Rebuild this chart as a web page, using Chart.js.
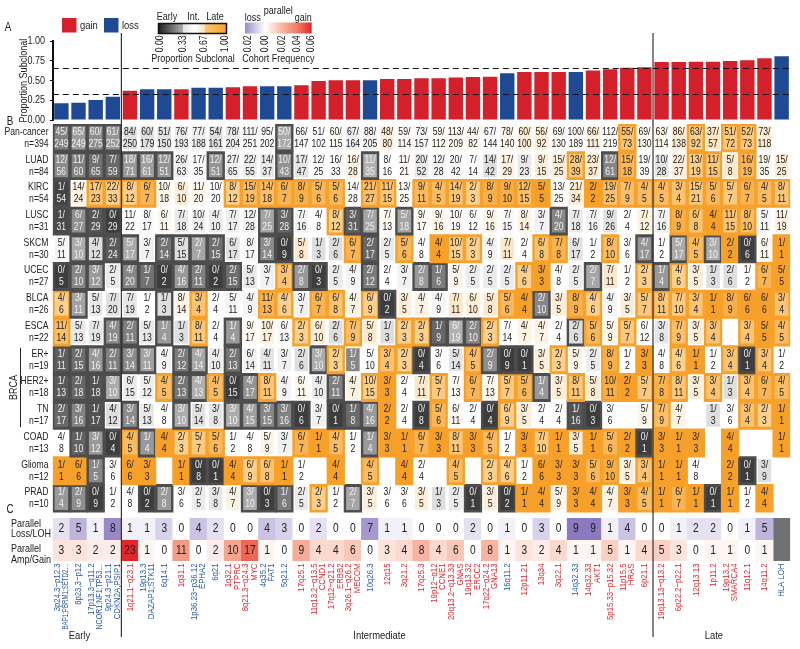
<!DOCTYPE html>
<html>
<head>
<meta charset="utf-8">
<script src="https://cdn.jsdelivr.net/npm/chart.js@4.4.0/dist/chart.umd.min.js"></script>
<style>
  html, body { margin: 0; padding: 0; background: #fff; width: 800px; height: 649px; overflow: hidden; }
  canvas { position: absolute; left: 0; top: 0; }
</style>
</head>
<body>
<canvas id="chartA" width="800" height="649"></canvas>
<canvas id="chartB" width="800" height="649"></canvas>
<canvas id="chartC" width="800" height="649"></canvas>
<script>
// ---- data ----
const regions = ['3p24.3−p12.3','8p23.3−p12','17p13.3−q11.2','9p24.3−p21.1','1q21.1−q23.1','19p13.3','6q14.1','1q31.1',
  '1p36.23−p36.12','6q21','1q32.1','8q21.3−q24.3','4q35.2','5q21.2','17q25.1','11q13.2−q13.5','17q12−q21.2','3q26.1−q26.2',
  '10q26.3','12q15','3q21.2','17q25.3','19p12−q12','20q13.2−q13.33','19q13.32','17q22−q24.2','16q11.2','12p11.21','13q34',
  '3q22.1','14q32.33','14q32.33','5p15.33−p15.32','11p15.5','6p21.1','19q13.13−q13.2','6p22.2−p22.1','12q13.13','1p11.2',
  '19p13.2','11q12.1','14q11.2','HLA LOH'];
const genes = ['BAP1;PBRM1;SETD2…','','NCOR1;NF1;TP53…','CDKN2A;PSIP1','','DAZAP1;STK11','','','EPHA2','','PTPRC','MYC',
  'FAT1','','','CCND1','ERBB2','MECOM','','','','','CCNE1','GNAS','ERCC2','GNA13','','','','','','AKT1','','HRAS','','','',
  '','','SMARCA4','','',''];
const eventType = ['loss','loss','loss','loss','gain','loss','loss','gain','loss','loss','gain','gain','loss','loss','gain',
  'gain','gain','gain','loss','gain','gain','gain','gain','gain','gain','gain','loss','gain','gain','gain','loss','gain','gain',
  'gain','gain','gain','gain','gain','gain','gain','gain','gain','loss'];
const timing = ['Early','Early','Early','Early'].concat(Array(31).fill('Intermediate'), Array(8).fill('Late'));
const propSubclonal = [0.212,0.22,0.254,0.296, 0.372,0.39,0.39,0.39,0.41,0.41,0.415,0.43,0.43,0.43,0.44,0.495,0.504,0.504,
  0.504,0.52,0.52,0.53,0.53,0.54,0.545,0.55,0.593,0.61,0.61,0.61,0.61,0.63,0.644,0.665,0.67, 0.737,0.737,0.741,0.741,0.75,
  0.758,0.784,0.809];
const yTicks = [0, 0.25, 0.5, 0.75, 1];

const cohorts = ['Pan-cancer','LUAD','KIRC','LUSC','SKCM','UCEC','BLCA','ESCA','ER+','HER2+','TN','COAD','Glioma','PRAD'];
const cohortN = [394,84,54,31,30,27,26,22,19,18,17,13,12,10];
// subclonal/total per event; suffix e = significantly early, l = significantly late
const panCancer = ['45/249e','65/249e','60/275e','61/252e','84/250','60/179','51/150','76/193','77/188','54/161','78/204','111/251','95/202','50/172e','66/147','51/102','60/115','67/164','88/205','48/80','59/114','73/157','59/112','113/209','44/82','67/144','78/140','60/100','56/92','69/130','100/189','66/111','112/219','55/73l','69/130','63/114','86/138','63/92l','37/57','51/72l','52/73l','73/118',''];
const luad = ['12/56e','11/60e','9/65e','7/59e','18/71e','16/61e','12/51e','26/63','17/35','12/51e','27/65','22/55','14/37','10/43e','17/47','12/25','16/33','16/28','11/35e','8/16','11/21','20/52','12/28','20/42','7/14','14/42','17/29','9/23','9/15','15/25','28/39l','23/37','12/61e','15/18l','19/39','10/28','22/37','13/19l','11/15l','5/8','16/19l','19/35','15/25'];
const kirc = ['1/54e','14/24','17/23l','22/33l','8/12l','6/7l','10/18','6/10','11/20','10/20','8/12l','15/19l','14/18l','6/7l','8/9l','5/6l','5/6l','14/28','21/27l','11/15l','13/25','9/11l','4/5l','14/19l','2/3l','8/9l','9/10l','12/15l','5/5l','13/25','21/34','2/2l','19/25l','7/9l','4/5l','4/5l','3/4l','15/21l','5/6l','5/7l','6/7l','4/5l','8/11l'];
const lusc = ['1/31e','6/27e','2/29e','0/29e','11/22','8/17','6/11','7/18','10/24','4/10','7/17','12/28','7/25e','3/28e','7/16','4/8','8/12l','3/31e','7/25e','7/13','5/18e','9/17','9/16','10/19','6/12','9/16','7/15','8/14','3/7','4/20e','7/18','7/16','9/26','2/4','7/12','7/16','8/9l','6/8l','4/4l','11/15l','8/10l','5/11','11/19'];
const skcm = ['5/11','3/10e','4/12e','2/24e','5/17e','3/7','2/14e','5/15e','2/7e','2/15e','6/17','8/17','3/14e','0/9e','5/8','1/3','2/6','6/7l','2/17e','2/5','5/6l','4/8','4/4l','10/15l','2/3l','4/9','7/11','2/4','6/8l','7/8l','6/17','1/2','8/10l','3/6','4/17e','1/2','5/17e','4/5l','3/10e','2/2l','0/6e','6/11','1/1l'];
const ucec = ['0/5e','2/10e','3/12e','2/5','4/20e','1/7e','0/2e','4/16e','2/11e','0/2e','2/15e','5/13','3/7','3/4l','2/8e','0/3e','2/5','4/9','2/12e','2/4','3/7','2/8e','1/6e','5/9','2/5','2/5','2/5','4/6l','3/3l','4/8','2/5','2/7e','7/11','1/2','2/3l','1/4e','4/6l','3/5','1/3','2/6','1/2','6/7l','5/5l'];
const blca = ['4/6l','3/11e','5/13','7/20','7/19','1/2','1/3e','8/14','3/4l','2/4','5/11','4/9','11/13l','4/6l','3/7','6/7l','6/8l','4/7','6/9l','0/2e','3/5','4/7','4/9','7/11','6/10','5/8','5/6l','4/4l','2/10e','3/5','8/9l','4/6l','4/9','3/5','5/7l','8/11l','7/10l','3/4l','1/1l','8/9l','6/6l','6/6l','3/4l'];
const esca = ['11/14l','5/13','7/19','4/19e','2/11e','5/13','1/4e','1/3','8/11l','2/4','1/4e','9/17','10/17','6/13','2/3l','6/10','2/6','7/9l','5/8','1/3','2/3l','2/3l','1/9e','6/19e','2/10e','2/3l','7/14','4/7','4/7','2/4','2/6e','5/6l','5/9','5/7l','6/12','3/8','7/9l','3/5','3/4l','','3/4l','5/5l','4/5l'];
const erPos = ['1/11e','2/15e','4/16e','2/11e','3/14e','3/11e','4/9','2/12e','4/14e','4/10','2/13e','6/14','4/11','3/7','2/6','3/10e','2/3l','1/5','5/10','3/4l','2/3l','0/4e','3/6','5/14','4/5l','2/9e','0/9e','0/1e','3/5','2/3l','5/9','2/5','8/9l','1/2','3/3l','4/8','4/6l','1/1l','1/2','3/4l','0/1e','3/4l','1/2'];
const her2Pos = ['1/13e','2/18e','1/18e','3/10e','6/15','5/12','4/5l','2/13e','4/13e','4/5l','0/15e','4/17e','8/11l','4/9','6/11','4/10','2/11e','4/7','10/15l','3/3l','2/4','7/11','5/7l','7/13','6/7l','7/13','5/7l','5/6l','1/4e','3/5','8/11l','5/8','10/11l','2/2l','5/7l','7/8l','8/11l','3/5','3/4l','1/3','3/4l','6/7l','4/5l'];
const tn = ['2/17e','3/16e','1/17e','4/12','3/14e','5/13','4/8','3/10e','5/14','3/8','3/10e','4/15e','3/15e','3/16e','0/6e','3/7','0/1e','1/8e','4/16e','2/2l','2/4','0/8e','5/6l','6/11','2/4','0/4e','6/9l','3/5','2/4','2/4','1/16e','0/3e','3/6','','5/9','7/9l','4/7','','1/3','3/6','3/4l','2/3l','1/1l'];
const coad = ['4/8','1/10e','3/12e','0/4e','4/5l','1/4e','4/4l','2/3l','5/7l','5/6l','1/2','4/8','5/9','3/7','6/7l','1/1l','4/5l','1/2','1/4e','3/3l','1/1l','6/7l','3/3l','8/11l','3/3l','4/5l','1/2','3/3l','7/10l','1/1l','3/5l','1/1l','5/6l','2/2l','0/1e','3/3l','1/1l','3/3l','','4/4l','','','1/1l'];
const glioma = ['1/1l','6/6l','1/5e','3/6','6/6l','3/3l','','1/1l','0/8e','0/1e','4/4l','6/9l','6/8l','1/1l','1/2','','4/4l','','4/5l','','4/4l','2/4','','4/5l','','2/3l','4/6l','1/2','6/6l','3/3l','3/3l','5/6l','9/10l','3/5','3/4l','1/1l','1/1l','4/8','','2/2l','0/1e','3/9',''];
const prad = ['1/4e','2/9e','0/9e','1/2','4/8','0/2e','2/8e','3/6','2/5','3/8','4/7','3/10e','0/3e','1/6e','2/5','2/3l','1/2','2/7e','3/5','3/6','3/6','3/5','1/3','2/5','0/1e','3/5','0/2e','1/1l','4/4l','5/9','3/3l','4/4l','4/7','3/3l','4/5l','1/1l','6/7l','1/1l','0/1e','1/1l','1/2','4/4l',''];
const cohortRows = [panCancer, luad, kirc, lusc, skcm, ucec, blca, esca, erPos, her2Pos, tn, coad, glioma, prad];

const parallelLoss = [2,5,1,8,1,1,3,0,4,2,0,0,4,3,0,2,0,0,7,1,1,0,0,0,2,0,1,0,3,0,9,9,1,4,0,0,1,2,2,0,1,5,null];
const parallelGain = [3,3,2,2,23,1,0,11,0,2,10,17,1,0,9,4,4,6,0,3,4,8,4,6,0,8,1,3,2,4,1,1,5,1,4,5,3,0,1,1,0,1,null];
const cohortSize = 394;

// ---- styling helpers ----
const FONT = '"Liberation Sans", Arial, sans-serif';
const SX = 0.82; // horizontal squeeze, the original uses a condensed face
Chart.defaults.font.family = FONT;
Chart.defaults.color = '#222';
const RED = '#d3202a', BLUE = '#1f4a93';
const EARLY = '#4d4d4d', LATE = '#f7a12b';

function mix(c1, c2, t) {
  const p = h => [1, 3, 5].map(i => parseInt(h.substr(i, 2), 16));
  const a = p(c1), b = p(c2);
  return 'rgb(' + a.map((v, i) => Math.round(v + (b[i] - v) * t)).join(',') + ')';
}
function ramp(stops, v) {
  if (v <= stops[0][0]) return mix(stops[0][1], stops[0][1], 0);
  for (let i = 1; i < stops.length; i++) {
    if (v <= stops[i][0]) {
      const t = (v - stops[i - 1][0]) / (stops[i][0] - stops[i - 1][0]);
      return mix(stops[i - 1][1], stops[i][1], t);
    }
  }
  return mix(stops[stops.length - 1][1], stops[stops.length - 1][1], 0);
}
function propColor(p) {
  if (p < 1 / 3) return mix('#3d3d3d', '#b8b8b8', p * 3);
  if (p < 0.5) return mix('#dedede', '#ffffff', (p - 1 / 3) * 6);
  if (p < 2 / 3) return mix('#ffffff', '#fde2bd', (p - 0.5) * 6);
  return mix('#fcd08e', '#f6a02a', (p - 2 / 3) * 3);
}
const lossColor = f => ramp([[0, '#ffffff'], [0.0228, '#8b79c1']], f);
const gainColor = f => ramp([[0, '#ffffff'], [0.02, '#f8b5a1'], [0.04, '#ef735e'], [0.06, '#e2202a']], f);

function parseCell(s) {
  if (!s) return null;
  const m = s.match(/^(\d+)\/(\d+)([el]?)$/);
  return { a: +m[1], b: +m[2], sig: m[3] };
}
const cells = cohortRows.map(r => r.map(parseCell));

function groupRange(name) {
  return [timing.indexOf(name), timing.lastIndexOf(name)];
}
function text(ctx, s, x, y, size, color, align, rot, maxW) {
  ctx.save();
  ctx.translate(x, y);
  if (rot) ctx.rotate(-Math.PI / 2);
  ctx.scale(SX, 1);
  ctx.font = size + 'px ' + FONT; ctx.fillStyle = color || '#222';
  ctx.textAlign = align || 'center'; ctx.textBaseline = 'middle';
  if (maxW) ctx.fillText(s, 0, 0, maxW / SX); else ctx.fillText(s, 0, 0);
  ctx.restore();
}
const vtext = (ctx, s, x, y, size, color, align, maxW) => text(ctx, s, x, y, size, color, align || 'right', true, maxW);
const common = {
  responsive: false, animation: false, events: [],
  plugins: { legend: { display: false }, tooltip: { enabled: false } }
};

// ---- panel A: proportion subclonal bars + legends ----
const panelA = {
  id: 'panelA',
  afterDatasetsDraw(chart) {
    const { ctx, chartArea, scales: { y } } = chart;
    ctx.save();
    ctx.strokeStyle = '#111'; ctx.lineWidth = 1; ctx.setLineDash([6, 4]);
    [1 / 3, 2 / 3].forEach(v => {
      const py = Math.round(y.getPixelForValue(v)) + 0.5;
      ctx.beginPath(); ctx.moveTo(chartArea.left, py); ctx.lineTo(chartArea.right, py); ctx.stroke();
    });
    ctx.restore();
  },
  afterDraw(chart) {
    const { ctx, scales: { y } } = chart;
    ctx.save();
    // y tick labels and title
    yTicks.forEach(v => text(ctx, v.toFixed(2), 45, y.getPixelForValue(v), 11, '#222', 'right'));
    vtext(ctx, 'Proportion Subclonal', 24, (y.getPixelForValue(0) + y.getPixelForValue(1)) / 2, 11, '#222', 'center');
    text(ctx, 'A', 8, 28, 12);
    // gain / loss legend
    ctx.fillStyle = RED; ctx.fillRect(62, 18, 14.5, 14.5);
    text(ctx, 'gain', 80, 25.5, 11.5, '#222', 'left');
    ctx.fillStyle = BLUE; ctx.fillRect(104, 18, 14.5, 14.5);
    text(ctx, 'loss', 122, 25.5, 11.5, '#222', 'left');
    // proportion subclonal legend
    let g = ctx.createLinearGradient(158.5, 0, 183, 0);
    g.addColorStop(0, '#1e1e1e'); g.addColorStop(1, '#b0b0b0');
    ctx.fillStyle = g; ctx.fillRect(158.5, 23.5, 24.5, 10);
    g = ctx.createLinearGradient(183, 0, 205, 0);
    g.addColorStop(0, '#e2e2e2'); g.addColorStop(0.5, '#ffffff'); g.addColorStop(1, '#fde2c0');
    ctx.fillStyle = g; ctx.fillRect(183, 23.5, 22, 10);
    g = ctx.createLinearGradient(205, 0, 226.5, 0);
    g.addColorStop(0, '#fbc877'); g.addColorStop(1, '#f7a024');
    ctx.fillStyle = g; ctx.fillRect(205, 23.5, 21.5, 10);
    ctx.strokeStyle = '#111'; ctx.lineWidth = 1.5; ctx.strokeRect(158.5, 23.5, 68, 10);
    text(ctx, 'Early', 167, 17, 11); text(ctx, 'Int.', 193.5, 17, 11); text(ctx, 'Late', 215, 17, 11);
    [['0.00', 160.3], ['0.33', 182.7], ['0.67', 204.3], ['1.00', 225.5]].forEach(t => vtext(ctx, t[0], t[1], 35.5, 10.5));
    text(ctx, 'Proportion Subclonal', 193, 58.5, 11);
    // cohort frequency legend
    g = ctx.createLinearGradient(245, 0, 311.7, 0);
    g.addColorStop(0, '#9a8cc8'); g.addColorStop(0.3, '#ffffff'); g.addColorStop(0.55, '#f8b7a3');
    g.addColorStop(0.78, '#f07c66'); g.addColorStop(1, '#e3262b');
    ctx.fillStyle = g; ctx.fillRect(245, 22.5, 66.7, 11);
    text(ctx, 'loss', 252.8, 17.5, 11); text(ctx, 'parallel', 278.3, 11, 11); text(ctx, 'gain', 303.3, 17.5, 11);
    [['0.02', 248.3], ['0.00', 265], ['0.02', 281.7], ['0.04', 297], ['0.06', 311.3]].forEach(t => vtext(ctx, t[0], t[1], 35.5, 10.5));
    text(ctx, 'Cohort Frequency', 278.3, 58.5, 11);
    ctx.restore();
  }
};

new Chart(document.getElementById('chartA'), {
  type: 'bar',
  data: {
    labels: regions,
    datasets: [{
      data: propSubclonal,
      backgroundColor: eventType.map(t => t === 'gain' ? RED : BLUE),
      barPercentage: 0.84, categoryPercentage: 1
    }]
  },
  options: Object.assign({}, common, {
    layout: { padding: { left: 0, right: 9.8, top: 41.3, bottom: 529 } },
    scales: {
      x: { display: false },
      y: {
        min: 0, max: 1,
        afterFit: s => { s.width = 52.8; },
        afterBuildTicks: s => { s.ticks = yTicks.map(v => ({ value: v })); },
        ticks: { display: false },
        grid: { display: true, drawOnChartArea: false, drawTicks: true, tickLength: 3, color: '#111' },
        border: { display: true, color: '#111', width: 2 }
      }
    }
  }),
  plugins: [panelA]
});

// ---- panel B: per-cohort fractions ----
const outerSets = cells.map((row, r) => ({
  data: row.map(c => c && c.sig ? [r - 0.5, r + 0.5] : null),
  backgroundColor: row.map(c => c && c.sig === 'e' ? EARLY : LATE),
  barPercentage: 1, categoryPercentage: 1, grouped: false, order: 2, inflateAmount: 0.6
}));
const innerSets = cells.map((row, r) => ({
  data: row.map(c => c ? [r - 0.415, r + 0.415] : null),
  backgroundColor: row.map(c => c ? propColor(c.a / c.b) : 'rgba(0,0,0,0)'),
  barPercentage: 0.79, categoryPercentage: 1, grouped: false, order: 1, inflateAmount: 0
}));

const panelB = {
  id: 'panelB',
  afterDatasetsDraw(chart) {
    const { ctx, scales: { x, y } } = chart;
    ctx.save();
    cells.forEach((row, r) => {
      const cy = y.getPixelForValue(r);
      row.forEach((c, i) => {
        if (!c) return;
        const cx = x.getPixelForValue(i);
        const col = c.a / c.b < 1 / 3 - 1e-9 ? '#f0f0f0' : '#222';
        text(ctx, c.a + '/', cx, cy - 6, 10.5, col);
        text(ctx, String(c.b), cx, cy + 6, 10.5, col);
      });
      text(ctx, cohorts[r], 48.5, cy - 6, 10.5, '#222', 'right');
      text(ctx, 'n=' + cohortN[r], 48.5, cy + 6, 10.5, '#222', 'right');
    });
    // BRCA bracket
    const b0 = cohorts.indexOf('ER+'), b1 = cohorts.indexOf('TN');
    ctx.strokeStyle = '#222'; ctx.lineWidth = 1;
    ctx.beginPath();
    ctx.moveTo(20.5, y.getPixelForValue(b0 - 0.5) + 2); ctx.lineTo(20.5, y.getPixelForValue(b1 + 0.5) - 2);
    ctx.stroke();
    vtext(ctx, 'BRCA', 13.5, y.getPixelForValue((b0 + b1) / 2), 11, '#222', 'center');
    text(ctx, 'B', 10, 122, 12);
    ctx.restore();
  }
};

new Chart(document.getElementById('chartB'), {
  type: 'bar',
  data: { labels: regions, datasets: outerSets.concat(innerSets) },
  options: Object.assign({}, common, {
    layout: { padding: { left: 52.8, right: 9.8, top: 124, bottom: 136.6 } },
    scales: {
      x: { display: false, offset: true },
      y: { display: false, min: -0.5, max: cohorts.length - 0.5, reverse: true }
    }
  }),
  plugins: [panelB]
});

// ---- panel C: parallel events + column labels ----
const panelC = {
  id: 'panelC',
  afterDatasetsDraw(chart) {
    const { ctx, scales: { x, y } } = chart;
    ctx.save();
    [parallelLoss, parallelGain].forEach((vals, r) => {
      const cy = y.getPixelForValue(r);
      vals.forEach((v, i) => { if (v !== null) text(ctx, String(v), x.getPixelForValue(i), cy, 12.5); });
    });
    text(ctx, 'Parallel', 11, 523.5, 11, '#222', 'left');
    text(ctx, 'Loss/LOH', 11, 534, 11, '#222', 'left');
    text(ctx, 'Parallel', 11, 549.3, 11, '#222', 'left');
    text(ctx, 'Amp/Gain', 11, 560.3, 11, '#222', 'left');
    // column labels
    regions.forEach((lab, i) => {
      const cx = x.getPixelForValue(i);
      const col = eventType[i] === 'gain' ? '#e0262d' : '#2b5aa8';
      if (genes[i]) {
        vtext(ctx, lab, cx - 4.2, 563.5, 9.5, col, 'right', 66);
        vtext(ctx, genes[i], cx + 4.2, 563.5, 9.5, col, 'right', 66);
      } else {
        vtext(ctx, lab, cx, 563.5, 9.5, col, 'right', 66);
      }
    });
    // timing groups and separators
    ['Early', 'Intermediate', 'Late'].forEach(name => {
      const [a, b] = groupRange(name);
      text(ctx, name, x.getPixelForValue((a + b) / 2 - 0.45), 636, 11.5);
    });
    ctx.strokeStyle = '#333'; ctx.lineWidth = 1.2;
    ['Intermediate', 'Late'].forEach(name => {
      const a = groupRange(name)[0];
      const px = (x.getPixelForValue(a - 1) + x.getPixelForValue(a)) / 2;
      ctx.beginPath(); ctx.moveTo(px, 33); ctx.lineTo(px, 637); ctx.stroke();
    });
    text(ctx, 'C', 10, 510, 12);
    ctx.restore();
  }
};

new Chart(document.getElementById('chartC'), {
  type: 'bar',
  data: {
    labels: regions,
    datasets: [
      {
        data: parallelLoss.map(v => v === null ? null : [-0.5, 0.5]),
        backgroundColor: parallelLoss.map(v => lossColor((v || 0) / cohortSize))
      },
      {
        data: parallelGain.map(v => v === null ? null : [0.5, 1.5]),
        backgroundColor: parallelGain.map(v => gainColor((v || 0) / cohortSize))
      },
      {
        data: parallelLoss.map(v => v === null ? [-0.5, 1.5] : null),
        backgroundColor: '#707172'
      }
    ].map(d => Object.assign(d, { barPercentage: 1, categoryPercentage: 1, grouped: false, inflateAmount: 0.4 }))
  },
  options: Object.assign({}, common, {
    layout: { padding: { left: 52.8, right: 9.8, top: 518, bottom: 88 } },
    scales: {
      x: { display: false, offset: true },
      y: { display: false, min: -0.5, max: 1.5, reverse: true }
    }
  }),
  plugins: [panelC]
});
</script>
</body>
</html>
